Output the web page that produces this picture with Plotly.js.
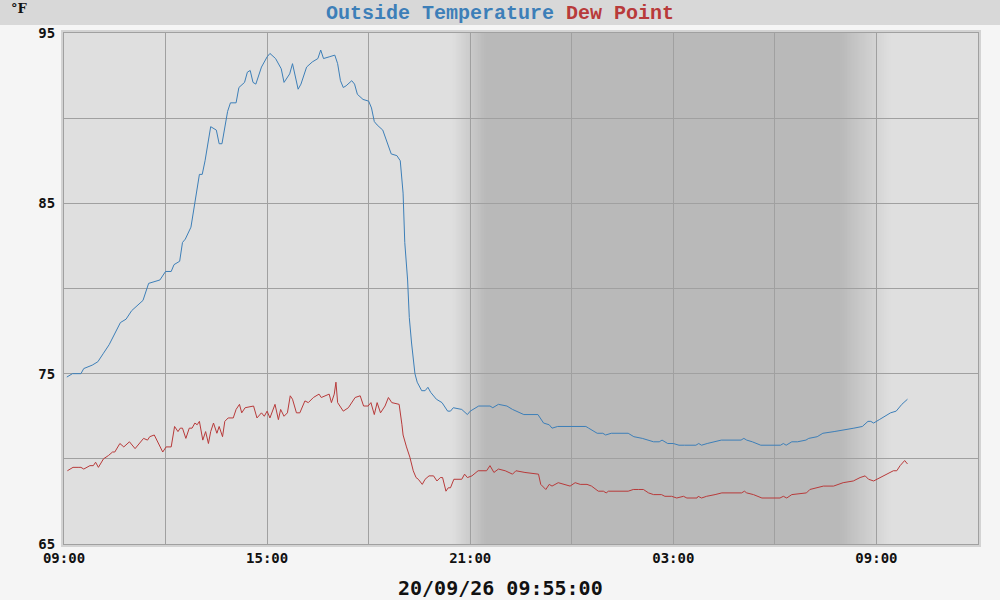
<!DOCTYPE html>
<html>
<head>
<meta charset="utf-8">
<script src="https://cdn.plot.ly/plotly-3.0.1.min.js"></script>
<style>
  html, body { margin: 0; padding: 0; background: #f5f5f5; }
  #chart { width: 1000px; height: 600px; }
</style>
</head>
<body>
<div id="chart"></div>
<script>
// day/night temperature plot, 09:00 on 2020-09-25 to 12:00 next day
// times are minutes after 09:00 on the first day
var tempMin = [5, 15, 30, 35, 50, 60, 70, 80, 100, 110, 120, 140, 150, 170, 180, 190, 195, 205, 210, 215,
  225, 230, 233, 240, 245, 250, 260, 270, 275, 280, 290, 295, 305, 310, 320, 325, 330, 335, 340, 350,
  360, 365, 375, 385, 390, 400, 405, 410, 415, 420, 430, 440, 450, 455, 460, 470, 480, 485, 490, 495,
  500, 510, 515, 520, 530, 540, 545, 550, 555, 565, 570, 580, 590, 596, 601, 604, 609, 612, 616, 622,
  626, 634, 640, 645, 650, 660, 670, 680, 685, 690, 705, 715, 720, 735, 755, 760, 770, 785, 795, 810,
  815, 840, 850, 860, 865, 875, 885, 905, 925, 930, 945, 955, 960, 970, 1000, 1010, 1025, 1045, 1055, 1060,
  1070, 1080, 1090, 1100, 1120, 1125, 1130, 1140, 1155, 1165, 1200, 1205, 1210, 1220, 1235, 1270, 1275, 1280, 1290, 1300,
  1315, 1320, 1335, 1345, 1365, 1385, 1400, 1415, 1425, 1430, 1435, 1445, 1450, 1465, 1475, 1485, 1495];
var tempF = [74.8, 75.0, 75.0, 75.3, 75.5, 75.7, 76.2, 76.7, 78.0, 78.2, 78.7, 79.3, 80.3, 80.5, 81.0, 81.0, 81.4, 81.6, 82.7, 82.9,
  83.6, 84.6, 85.1, 86.7, 86.7, 87.5, 89.5, 89.3, 88.5, 88.5, 90.4, 90.9, 90.9, 91.8, 92.1, 92.7, 92.8, 92.1, 92.0, 93.0,
  93.6, 93.8, 93.5, 92.9, 92.1, 92.6, 93.2, 92.4, 91.7, 92.0, 93.0, 93.3, 93.5, 94.0, 93.5, 93.6, 93.7, 93.2, 92.2, 91.8,
  91.9, 92.2, 92.0, 91.4, 91.1, 91.0, 90.6, 89.8, 89.6, 89.3, 88.8, 87.9, 87.8, 87.5, 85.6, 82.7, 80.5, 78.3, 76.8, 75.0,
  74.5, 74.0, 74.0, 74.2, 73.9, 73.5, 73.3, 72.8, 72.8, 73.0, 72.9, 72.6, 72.8, 73.1, 73.1, 73.0, 73.2, 73.1, 72.9, 72.7,
  72.6, 72.6, 72.1, 72.0, 71.8, 71.9, 71.9, 71.9, 71.9, 71.8, 71.5, 71.5, 71.4, 71.5, 71.5, 71.3, 71.2, 71.0, 71.0, 71.1,
  70.9, 70.9, 70.8, 70.8, 70.8, 70.9, 70.8, 70.9, 71.0, 71.1, 71.1, 71.2, 71.1, 71.0, 70.8, 70.8, 70.9, 70.8, 71.0, 71.0,
  71.1, 71.2, 71.3, 71.5, 71.6, 71.7, 71.8, 71.9, 72.2, 72.2, 72.1, 72.3, 72.4, 72.7, 72.8, 73.2, 73.5];

var dewMin = [6, 16, 25, 30, 35, 46, 52, 56, 61, 70, 79, 86, 90, 99, 106, 116, 126, 141, 148, 152,
  160, 175, 181, 190, 196, 202, 206, 210, 216, 222, 227, 232, 236, 240, 246, 251, 256, 260, 265, 271,
  275, 281, 285, 291, 300, 305, 311, 315, 321, 336, 342, 350, 355, 360, 365, 374, 380, 384, 390, 396,
  401, 405, 412, 418, 427, 433, 442, 448, 452, 456, 463, 470, 474, 479, 482, 485, 495, 504, 516, 525,
  531, 539, 544, 550, 555, 561, 569, 575, 581, 590, 594, 599, 601, 607, 613, 619, 624, 628, 635, 640,
  647, 655, 661, 667, 671, 677, 681, 685, 691, 705, 710, 715, 723, 734, 749, 755, 762, 770, 782, 795,
  801, 817, 841, 845, 854, 860, 865, 876, 897, 906, 915, 927, 935, 947, 956, 961, 965, 1000, 1009, 1018,
  1027, 1036, 1045, 1059, 1065, 1077, 1086, 1098, 1104, 1122, 1124, 1130, 1139, 1154, 1166, 1201, 1206, 1210, 1222, 1237,
  1269, 1275, 1281, 1290, 1316, 1322, 1334, 1346, 1364, 1381, 1399, 1411, 1420, 1426, 1435, 1446, 1458, 1470, 1476, 1482,
  1490, 1495];
var dewF = [69.3, 69.5, 69.5, 69.5, 69.4, 69.6, 69.6, 69.8, 69.5, 70.0, 70.2, 70.4, 70.4, 70.9, 70.7, 71.0, 70.6, 71.2, 71.1, 71.3,
  71.4, 70.4, 70.7, 70.7, 71.9, 71.6, 71.8, 71.8, 71.2, 71.8, 71.8, 72.1, 72.0, 72.2, 71.1, 71.6, 70.9, 71.6, 72.1, 71.5,
  71.9, 71.3, 72.2, 72.4, 72.4, 72.9, 73.2, 72.7, 73.0, 73.1, 72.4, 72.7, 72.5, 72.8, 72.4, 73.2, 72.3, 72.9, 72.5, 72.7,
  73.7, 73.5, 72.7, 72.7, 73.4, 73.3, 73.6, 73.7, 73.8, 73.6, 73.7, 73.8, 73.3, 73.8, 74.5, 73.3, 72.8, 73.0, 73.6, 73.7,
  73.1, 73.1, 73.3, 72.6, 73.3, 72.7, 73.1, 73.6, 73.3, 73.2, 73.2, 72.0, 71.4, 70.7, 70.1, 69.3, 68.9, 68.8, 68.5, 68.8,
  69.0, 69.0, 68.7, 68.9, 68.9, 68.1, 68.3, 68.3, 68.8, 68.8, 69.1, 68.9, 69.0, 69.3, 69.3, 69.6, 69.2, 69.4, 69.3, 69.1,
  69.3, 69.2, 69.1, 68.5, 68.2, 68.5, 68.4, 68.6, 68.4, 68.6, 68.5, 68.5, 68.4, 68.1, 68.1, 68.0, 68.1, 68.1, 68.2, 68.2,
  68.2, 68.0, 67.9, 67.9, 67.8, 67.8, 67.7, 67.8, 67.7, 67.7, 67.8, 67.7, 67.8, 67.9, 68.0, 68.0, 68.1, 68.0, 67.9, 67.7,
  67.7, 67.8, 67.7, 67.9, 68.0, 68.2, 68.3, 68.4, 68.4, 68.6, 68.7, 68.9, 69.0, 68.8, 68.7, 68.9, 69.1, 69.3, 69.3, 69.6,
  69.9, 69.7];

// night shading: twilight ramps in minutes after 09:00
var duskStart = 688, duskEnd = 748;    // ~20:28 .. 21:28
var dawnStart = 1375, dawnEnd = 1465;  // ~07:55 .. 09:25
var yTicks = [65, 75, 85, 95];
var stampText = '20/09/26 09:55:00';

var T0 = Date.UTC(2020, 8, 25, 9, 0);
function t(m) { return T0 + m * 60000; }
var HOUR = 3600000;

// plot box in pixels
var W = 1000, H = 600, L = 64, R = 22, TOP = 33, B = 56;
var PW = W - L - R, PH = H - TOP - B;
function px(x) { return (x - L) / PW; }
function py(y) { return (H - B - y) / PH; }

var dayCol = [223, 223, 223], nightCol = [185, 185, 185];
function mix(f) {
  var c = dayCol.map(function (d, i) { return Math.round(d + (nightCol[i] - d) * f); });
  return 'rgb(' + c.join(',') + ')';
}

var shapes = [
  // header band
  {type: 'rect', xref: 'paper', yref: 'paper', x0: px(0), x1: px(W), y0: py(25), y1: py(0),
    fillcolor: '#d8d8d8', line: {width: 0}, layer: 'below'},
  // light frame around plot, then the day-coloured plot area over it
  {type: 'rect', xref: 'paper', yref: 'paper', x0: px(L - 3), x1: px(W - R + 3), y0: py(H - B + 3), y1: py(TOP - 3),
    fillcolor: '#d3d3d3', line: {width: 0}, layer: 'below'},
  {type: 'rect', xref: 'paper', yref: 'paper', x0: 0, x1: 1, y0: 0, y1: 1,
    fillcolor: mix(0), line: {width: 0}, layer: 'below'}
];
// twilight ramps: each step reaches into the night block so no seams show
var steps = 30;
for (var i = 0; i < steps; i++) {
  var f = (i + 0.5) / steps;
  var a = duskStart + (duskEnd - duskStart) * i / steps;
  shapes.push({type: 'rect', xref: 'x', yref: 'paper', x0: t(a), x1: t(duskEnd + 5), y0: 0, y1: 1,
    fillcolor: mix(f), line: {width: 0}, layer: 'below'});
}
for (var j = 0; j < steps; j++) {
  var g = (j + 0.5) / steps;
  var b = dawnEnd - (dawnEnd - dawnStart) * j / steps;
  shapes.push({type: 'rect', xref: 'x', yref: 'paper', x0: t(dawnStart - 5), x1: t(b), y0: 0, y1: 1,
    fillcolor: mix(g), line: {width: 0}, layer: 'below'});
}
// full night
shapes.push({type: 'rect', xref: 'x', yref: 'paper', x0: t(duskEnd), x1: t(dawnStart), y0: 0, y1: 1,
  fillcolor: mix(1), line: {width: 0}, layer: 'below'});

var temp = {
  x: tempMin.map(t), y: tempF, name: 'Outside Temperature',
  type: 'scatter', mode: 'lines', line: {color: '#3d7fb8', width: 1}
};
var dew = {
  x: dewMin.map(t), y: dewF, name: 'Dew Point',
  type: 'scatter', mode: 'lines', line: {color: '#b83a3a', width: 1}
};

var tickFont = {family: 'DejaVu Sans Mono', size: 14, color: '#111', weight: 'bold'};

var layout = {
  width: W, height: H,
  margin: {l: L, r: R, t: TOP, b: B, pad: 0},
  paper_bgcolor: '#f5f5f5',
  plot_bgcolor: '#dfdfdf',
  showlegend: false,
  title: {
    text: '<span style="color:#3d7fb8">Outside Temperature</span> <span style="color:#b83a3a">Dew Point</span>',
    font: {family: 'Liberation Mono', size: 20, weight: 'bold'},
    xref: 'container', x: 0.5, xanchor: 'center',
    yref: 'container', y: 1 - 12 / H, yanchor: 'middle'
  },
  xaxis: {
    type: 'date', range: [t(0), t(27 * 60)],
    tick0: t(0), dtick: 6 * HOUR, tickformat: '%H:%M',
    showgrid: true, gridcolor: '#a0a0a0', gridwidth: 1,
    minor: {dtick: 3 * HOUR, tick0: t(0), showgrid: true, gridcolor: '#a0a0a0', gridwidth: 1},
    showline: true, linecolor: '#a0a0a0', linewidth: 1, mirror: true,
    ticks: '', tickfont: tickFont, ticklabelstandoff: 1,
    zeroline: false, fixedrange: true
  },
  yaxis: {
    range: [65, 95], tickvals: yTicks,
    showgrid: true, gridcolor: '#a0a0a0', gridwidth: 1,
    minor: {dtick: 5, tick0: 65, showgrid: true, gridcolor: '#a0a0a0', gridwidth: 1},
    showline: true, linecolor: '#a0a0a0', linewidth: 1, mirror: true,
    ticks: '', tickfont: tickFont, ticklabelstandoff: 5,
    zeroline: false, fixedrange: true
  },
  shapes: shapes,
  annotations: [
    {xref: 'paper', yref: 'paper', x: px(19), y: py(8), text: '\u00b0F', showarrow: false,
      font: {family: 'DejaVu Serif', size: 13, color: '#111', weight: 'bold'},
      xanchor: 'center', yanchor: 'middle'},
    {xref: 'paper', yref: 'paper', x: px(500), y: py(588), text: stampText, showarrow: false,
      font: {family: 'DejaVu Sans Mono', size: 20, color: '#111', weight: 'bold'},
      xanchor: 'center', yanchor: 'middle'}
  ]
};

Plotly.newPlot('chart', [temp, dew], layout, {staticPlot: true, displayModeBar: false});
</script>
</body>
</html>
